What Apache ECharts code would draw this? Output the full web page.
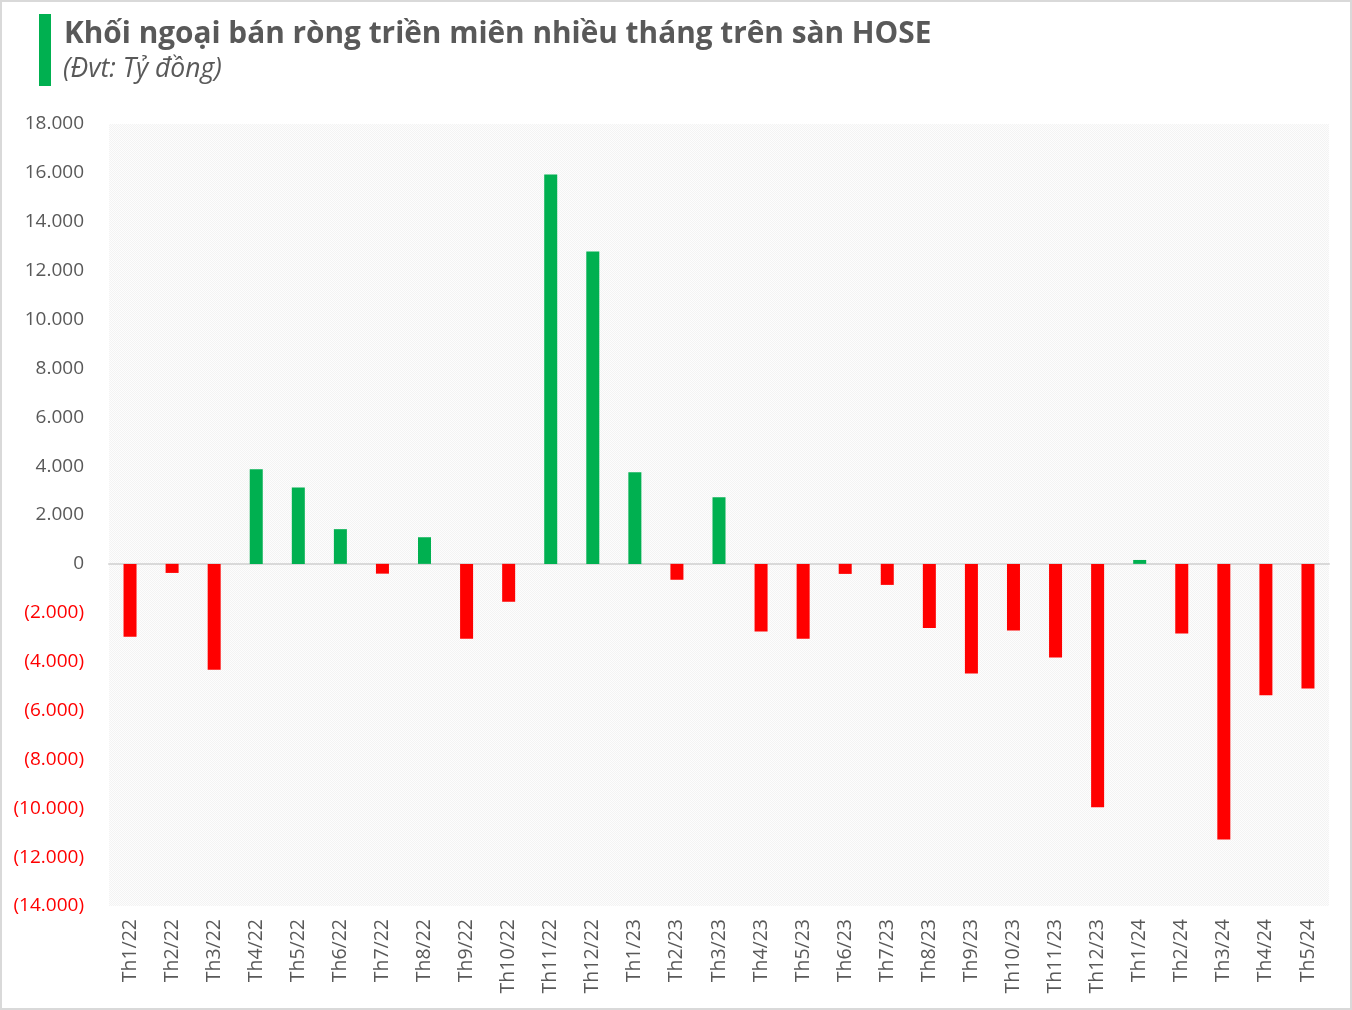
<!DOCTYPE html>
<html>
<head>
<meta charset="utf-8">
<script src="https://cdn.jsdelivr.net/npm/echarts@6/dist/echarts.min.js"></script>
<style>
html,body{margin:0;padding:0;background:#fff;}
#wrap{position:absolute;left:0;top:0;width:1348px;height:1006px;border:2px solid #d9d9d9;background:#fff;}
#chart{position:absolute;left:-2px;top:-2px;width:1352px;height:1010px;}
</style>
</head>
<body>
<div id="wrap"><div id="chart"></div></div>
<script>
const categories = ["Th1/22","Th2/22","Th3/22","Th4/22","Th5/22","Th6/22","Th7/22","Th8/22","Th9/22","Th10/22","Th11/22","Th12/22",
  "Th1/23","Th2/23","Th3/23","Th4/23","Th5/23","Th6/23","Th7/23","Th8/23","Th9/23","Th10/23","Th11/23","Th12/23",
  "Th1/24","Th2/24","Th3/24","Th4/24","Th5/24"];
const netValues = [-2980,-370,-4330,3870,3130,1420,-400,1090,-3060,-1550,15930,12780,
  3750,-650,2730,-2770,-3060,-410,-860,-2620,-4490,-2730,-3830,-9960,
  160,-2850,-11280,-5380,-5100];
const yMin = -14000, yMax = 18000, yStep = 2000;
const titleText = "Khối ngoại bán ròng triền miên nhiều tháng trên sàn HOSE";
const subtitleText = "(Đvt: Tỷ đồng)";

function fmt(v){
  const a = Math.abs(v).toString().replace(/\B(?=(\d{3})+(?!\d))/g, ".");
  return v < 0 ? "(" + a + ")" : a;
}

// light dotted pattern for plot background
const pc = document.createElement('canvas');
pc.width = 2; pc.height = 2;
const pctx = pc.getContext('2d');
pctx.fillStyle = '#fdfdfd'; pctx.fillRect(0,0,2,2);
pctx.fillStyle = '#f3f3f3'; pctx.fillRect(0,0,1,1); pctx.fillRect(1,1,1,1);

const chart = echarts.init(document.getElementById('chart'), null, {renderer:'canvas'});
chart.setOption({
  animation:false,
  graphic:[
    {type:'rect', left:39, top:14, shape:{width:12, height:72}, style:{fill:'#00b050'}},
    {type:'text', left:64, top:20, style:{text:titleText, font:'bold 29.8px "Open Sans"', fill:'#595959'}},
    {type:'text', left:63, top:56, style:{text:subtitleText, font:'italic 26.5px "Open Sans"', fill:'#595959'}}
  ],
  grid:{left:109, right:23, top:124, bottom:104, show:true, borderWidth:0,
        backgroundColor:{image:pc, repeat:'repeat'}},
  xAxis:{
    type:'category', data:categories,
    axisLine:{show:true, onZero:true, lineStyle:{color:'#d9d9d9', width:2}},
    axisTick:{show:false},
    axisLabel:{rotate:90, interval:0, color:'#595959', fontFamily:'Open Sans', fontSize:19.5, margin:13}
  },
  yAxis:{
    type:'value', min:yMin, max:yMax, interval:yStep,
    splitLine:{show:false}, axisLine:{show:false}, axisTick:{show:false},
    axisLabel:{
      margin:25, fontFamily:'Open Sans', fontSize:19,
      formatter: v => fmt(v),
      color: v => (Number(v) < 0 ? '#ff0000' : '#595959')
    }
  },
  series:[{
    type:'bar', data:netValues, barWidth:13,
    itemStyle:{color: p => (p.value < 0 ? '#ff0000' : '#00b050')}
  }]
});
</script>
</body>
</html>
